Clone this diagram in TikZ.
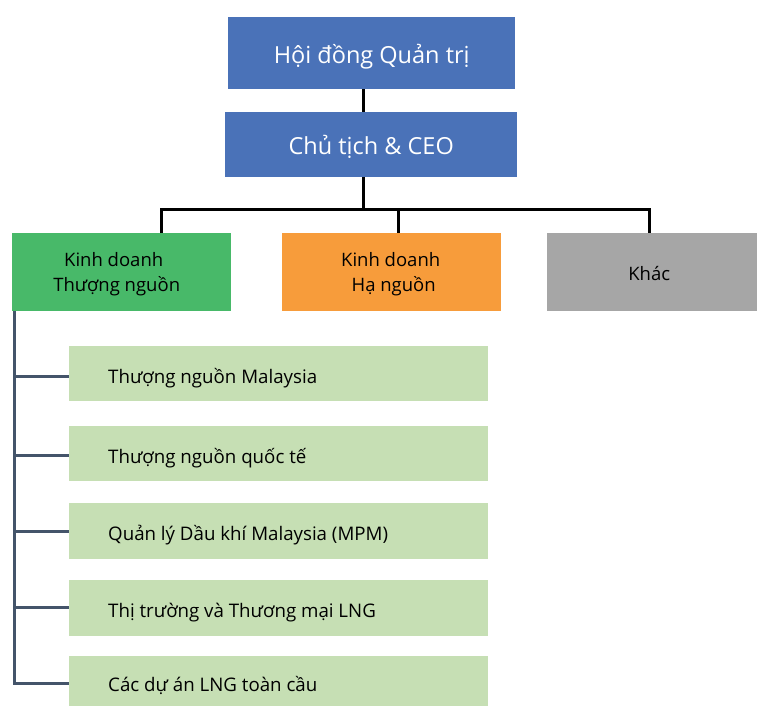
\documentclass[tikz,border=0pt]{standalone}
\usepackage{fontspec}
\setmainfont{Open Sans}
\definecolor{boardblue}{HTML}{4A72B8}
\definecolor{upgreen}{HTML}{48B969}
\definecolor{downorange}{HTML}{F79C3B}
\definecolor{othergray}{HTML}{A6A6A6}
\definecolor{unitgreen}{HTML}{C6DFB4}
\definecolor{slate}{HTML}{44546A}
\begin{document}
\begin{tikzpicture}[x=1pt,y=-1pt,
  box/.style={draw=none,inner sep=0pt,anchor=north west},
  label/.style={inner sep=0pt,align=center},
  toptext/.style={label,text=white,font=\fontsize{23.5}{28}\selectfont},
  divtext/.style={label,font=\fontsize{18.5}{25}\selectfont},
  unittext/.style={inner sep=0pt,anchor=west,font=\fontsize{18.7}{22}\selectfont},
  unitbox/.style={box,fill=unitgreen,minimum width=419pt},
  link/.style={line width=3pt,black},
  unitlink/.style={line width=3pt,slate}]
\useasboundingbox (0,0) rectangle (757,706);

% top of the chart
\node[box,fill=boardblue,minimum width=287pt,minimum height=72pt] (board) at (228,17) {};
\node[toptext] (boardt) at ([yshift=-3pt]board.center) {Hội đồng Quản trị};
\node[box,fill=boardblue,minimum width=292pt,minimum height=65pt] (ceo) at (225,112) {};
\node[toptext] (ceot) at ([yshift=-2pt]ceo.center) {Chủ tịch \& CEO};

% business divisions
\node[box,fill=upgreen,minimum width=219pt,minimum height=78pt] (up) at (12,233) {};
\node[divtext] (upt) at ([shift={(-5pt,-2pt)}]up.center) {\hspace*{-6pt}Kinh doanh\\Thượng nguồn};
\node[box,fill=downorange,minimum width=219pt,minimum height=78pt] (down) at (282,233) {};
\node[divtext] (downt) at ([shift={(2pt,-2pt)}]down.center) {\hspace*{-6pt}Kinh doanh\\Hạ nguồn};
\node[box,fill=othergray,minimum width=210pt,minimum height=78pt] (other) at (547,233) {};
\node[divtext] (othert) at ([shift={(-3pt,-1pt)}]other.center) {Khác};

% upstream units
\node[unitbox,minimum height=55pt] (u1) at (69,346) {};
\node[unitbox,minimum height=55pt] (u2) at (69,426) {};
\node[unitbox,minimum height=56pt] (u3) at (69,503) {};
\node[unitbox,minimum height=56pt] (u4) at (69,580) {};
\node[unitbox,minimum height=50pt] (u5) at (69,656) {};
\foreach \u/\t in {u1/{Thượng nguồn Malaysia},u2/{Thượng nguồn quốc tế},
    u3/{Quản lý Dầu khí Malaysia (MPM)},u4/{Thị trường và Thương mại LNG},
    u5/{Các dự án LNG toàn cầu}}
  \node[unittext] (\u t) at ([shift={(39pt,-4pt)}]\u.west) {\t};

% connectors
\coordinate (bar) at (363,209);
\draw[link] (board.south -| bar) -- (ceo.north -| bar);
\draw[link] (ceo.south -| bar) -- (bar);
\draw[link] (up.north -| 161,0) -- (161,209) -- (649,209) -- (other.north -| 649,0);
\draw[link] (398,209) -- (down.north -| 398,0);

\coordinate (spine) at (14,311);
\draw[unitlink] (spine) -- (14,683) -- (u5.west |- 0,683);
\foreach \u/\yy in {u1/376,u2/455,u3/531,u4/607}
  \draw[unitlink] (14,\yy) -- (\u.west |- 0,\yy);
\end{tikzpicture}
\end{document}
